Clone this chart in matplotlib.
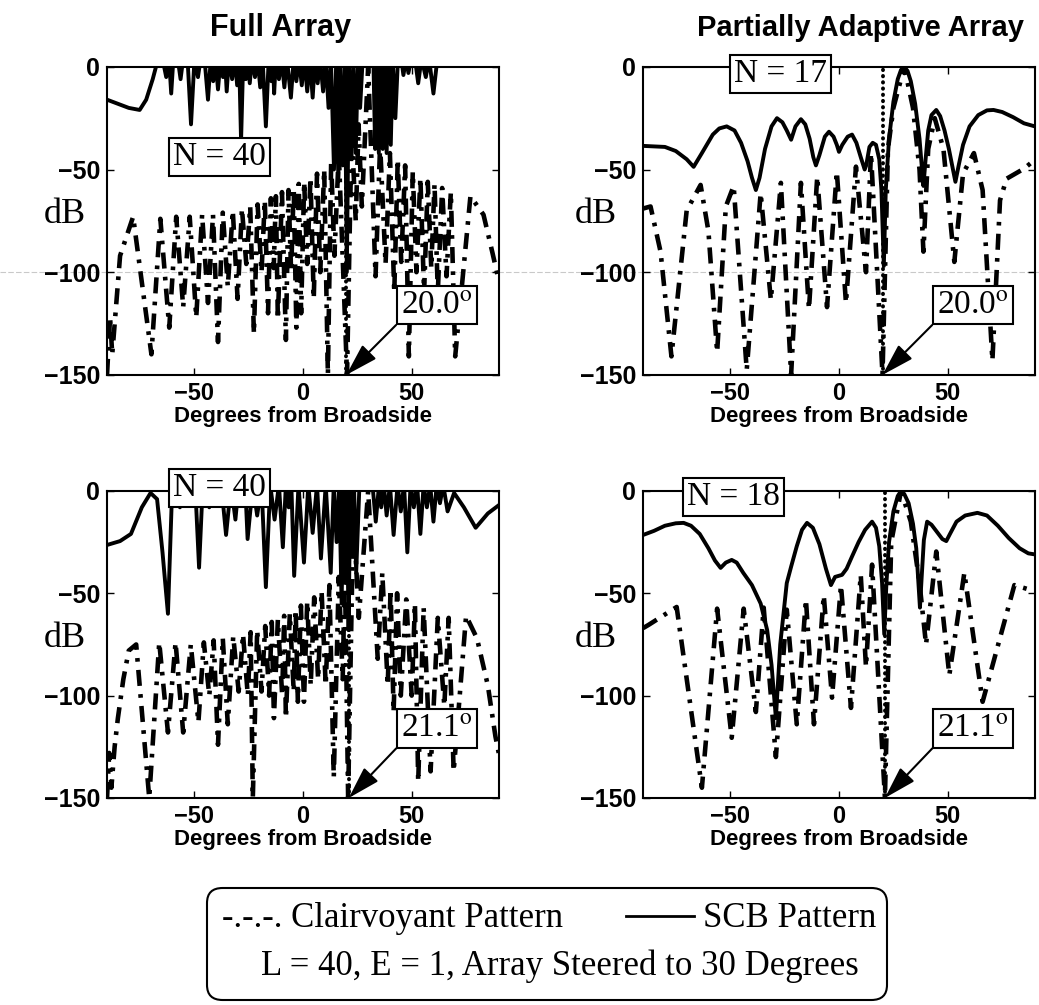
import matplotlib.pyplot as plt
from matplotlib.lines import Line2D
from matplotlib.patches import FancyBboxPatch

plt.rcParams['mathtext.fontset'] = 'stix'
SANS = 'Liberation Sans'
SERIF = 'Liberation Serif'

# ---------------- data (degrees, dB) ----------------
# Full array, jammer at 20.0 deg
tl_scb_x = [-90, -85, -80, -75, -72, -69, -66.5, -64.5, -62.8, -61.5, -60.5, -59.5, -57.5, -56.2,
            -55, -53, -51.4, -49.8, -48.2, -47, -45.2, -43.6, -42.3, -41.2, -40.2, -39, -37.8,
            -36.7, -35.8, -35, -34, -32.5, -31.2, -30.2, -29.3, -28.4, -27.4, -26.2, -25.3,
            -24.4, -23.4, -22, -20.8, -19.6, -18.5, -17, -15.7, -14.5, -13.8, -13.2, -12.4, -11,
            -9.8, -8.5, -7.3, -5.5, -4.2, -3, -1.8, -0.5, 0.7, 2, 3.2, 4.5, 5.6, 6.8, 7.9, 9.3,
            10.5, 11.8, 12.9, 14.3, 15.3, 16.3, 17.2, 18.3, 19.3, 20.2, 21.2, 22.2, 23.2, 24.3,
            25.3, 26.3, 27.5, 30, 32.4, 33.2, 34, 34.9, 35.8, 36.7, 37.6, 38.5, 39.4, 40.4, 41.3,
            42.5, 43.7, 45.2, 46.2, 47.5, 48.5, 49.8, 51.5, 53, 54.5, 56.5, 58, 60, 61.8, 63,
            70, 90]
tl_scb_y = [-16, -18, -20, -21, -16, -6, 4, 4, -5, 4, -13, 4, 4, -6,
            4, 4, -28, 4, -5, 4, 4, -16, 4, -7, 4, -11, 4,
            -5, 4, -12, 4, -6, 4, -9, 4, -36, 4, -6, 4,
            -8, 4, -5, 4, -10, 4, -29, 4, -7, 4, -13, 4, -6,
            4, -10, 4, -15, 4, -7, 4, -9, 4, -12, 4, -15, 4, -8, 4, -12,
            4, -20, 4, -50, 3, -55, 3, -48, 3, -100, 3, -45, 3, -42,
            3, -20, 4, 6, 4, -40, 3, -42, 3, -40, 3, -42, 3, -38, 3,
            -25, 4, 4, -4, 4, -3, 4, 4, -8, 4, -5, 4, -13, 4, 5,
            5, 5]
tl_cv_x = [-90, -88.6, -87.6, -84, -78, -69.6, -65.5, -61.4, -58.2, -55, -52, -49, -46.3, -43.6,
           -41.3, -39, -36.8, -34.5, -32.2, -30, -28, -26, -24.2, -22.5, -20.8, -19, -17.5, -16,
           -14.7, -13.4, -12.4, -11.5, -9.6, -7.8, -6.6, -5.4, -4.2, -3, -1.9, -0.8, 0.6, 2, 3.5,
           5, 6.5, 8, 9.8, 11.5, 13, 14.5, 16.5, 20.3, 22.4, 24.3, 25.6, 27.1, 30, 33.4, 35.5,
           38, 40, 42, 43.6, 45.2, 47, 48.7, 50.5, 52.2, 54, 55.7, 57.4, 59, 60.5, 62, 64, 66,
           68, 70, 77, 83, 87, 90]
tl_cv_y = [-150, -122, -140, -92, -73, -140, -74, -127, -73, -117, -73, -122, -72, -115,
           -72, -134, -71, -107, -70, -113, -69, -96, -68, -130, -67, -100, -65, -120,
           -64, -98, -63, -123, -61, -133, -60, -100, -59, -127, -57, -120, -56, -96, -54,
           -113, -52, -100, -50, -150, -46, -92, -42, -150, -30, -75, -28, -68, 0, -102, -38,
           -96, -42, -110, -45, -95, -48, -141, -51, -100, -54, -110, -56, -98, -57, -110, -59, -102,
           -61, -141, -63, -72, -90, -104]

# Partially adaptive array, jammer at 20.0 deg
tr_scb_x = [-90, -80, -75, -70, -66.8, -63, -58, -55, -51.6, -48, -45, -42, -40, -38.2, -36.5,
            -34, -31, -28.5, -26, -24, -22, -20, -17.5, -15.5, -13.5, -11.8, -10.6, -9, -6.5,
            -4.6, -2.5, -1, 0, 1.5, 4, 6, 8, 10, 11.8, 12.5, 14, 15.5, 17, 18.5, 19.5, 20.6,
            21.5, 23, 25, 27, 28.5, 30, 31.5, 33, 35, 37, 38, 38.8, 39.8, 41, 42.5, 44.7, 46.5,
            48.5, 50.5, 52, 53.5, 55, 57, 60, 64, 68, 71, 75, 80, 85, 90]
tr_scb_y = [-38.5, -39, -41, -45, -48.7, -42, -33, -30, -29, -31, -37, -46, -54, -60, -54,
            -40, -29, -25, -27, -31, -35.5, -29, -25.5, -28, -35, -44, -48, -43, -34,
            -31.6, -34, -38, -41.4, -38, -34, -33, -37, -44, -50, -48, -39, -37, -38, -45, -60, -97,
            -60, -35, -17, -6, -1.5, 0, -2, -7, -18, -35, -48, -58, -45, -31, -23.5, -21, -24,
            -31, -40, -48, -56, -48, -38, -29, -23.5, -21.2, -21, -22, -24.5, -27.5, -29]
tr_cv_x = [-90, -86.6, -82, -77, -70, -63.6, -60, -56, -52, -48.4, -42.4, -36, -31.3, -26.7,
           -22, -17.5, -13.8, -10, -5.5, -1, 3.2, 7.8, 12.4, 14.7, 20, 22.5, 25, 30, 34, 37,
           38.8, 41, 44, 48, 53, 57, 62, 66, 70.5, 74, 77, 85, 88, 90]
tr_cv_y = [-69, -68, -90, -141, -70, -57.5, -80, -139, -68, -58, -147.6, -61.5, -113.5, -56.5,
           -150, -56.5, -118, -53.5, -117, -51, -115, -48.6, -100, -42, -150, -40, -20, 0, -20, -50,
           -90, -40, -25, -40, -95, -52, -42, -60, -143, -65, -54.5, -49.6, -47, -48]

# Full array, jammer at 21.1 deg
bl_scb_x = [-90, -84, -79, -74, -70, -67, -64.5, -62, -60, -57.5, -56.5, -55, -52, -49.5, -47.7,
            -46, -44.5, -43, -41.5, -39.5, -37.5, -35.3, -33, -31, -29.5, -28, -26.5, -25.4, -23,
            -21, -19, -17, -15, -13, -11, -9.2, -7.8, -6.5, -5.3, -4, -2, 0.5, 2.5, 4.5, 6.5, 8.3,
            10.5, 12.8, 14.2, 15.5, 16.7, 17.8, 18.7, 19.5, 20.2, 21, 21.8, 22.5, 23.5, 24.5, 26,
            30, 32, 33.5, 35, 36, 37.2, 38.5, 40, 41.7, 43.5, 45, 46.5, 48, 49.5, 51, 52.5, 54,
            55.5, 57, 58.5, 60, 61.5, 63, 64.5, 66.5, 69.5, 74, 79.4, 85, 90]
bl_scb_y = [-26.4, -24.5, -21, -8, -1, -4, -30, -60, 3, 3, -8, 3, 3, 3, -37.5,
            3, 3, -8, 3, -5, 3, -21.5, 3, -14, 3, -6, 3, -23.5, 3,
            -12, 3, -47, 3, -14, 3, -27.5, 3, -8, 3, -41.5, 3, -35, 3, -20.5, 3, -33,
            3, -40, 3, -25, 3, -55, 3, -45, 3, -68, 3, -30, 3, -40, 3,
            5, 3, -15, 3, -8, 3, -12, 3, -21.5, 3, -10, 3, -30, 3, -8, 3, -21,
            3, -8, 3, -15, 3, -6, 3, -10, -1, -8, -18, -11, -7]
bl_cv_x = [-90, -89, -88, -86.5, -85, -82.5, -80, -76.6, -70.6, -66, -62, -58.5, -55, -51.5,
           -48, -45.5, -43, -41, -39, -36.8, -34.5, -32, -29.5, -27.5, -25.3, -24, -23, -21,
           -19, -17.3, -15.5, -14.3, -13.3, -11.5, -9.5, -8.6, -7.8, -6, -4.2, -3.3, -2.3,
           -0.9, 0.5, 2, 3.6, 5.2, 7, 8.6, 10.5, 12.2, 14.2, 16.5, 18.3, 19.3, 20.8, 23.2,
           25.7, 30, 34.4, 36.5, 39, 40.3, 41.7, 43.3, 45, 47.5, 50, 51.5, 53, 55.5, 58.7, 62,
           65, 67, 69.3, 75, 80, 85, 88.5, 90]
bl_cv_y = [-150, -128, -145, -125, -111, -92, -78, -75, -150, -74, -118, -74, -118, -75,
           -113, -74, -100, -73, -124, -72, -114, -71, -98, -70, -100, -69, -150, -68,
           -98, -66, -100, -64, -111, -63, -100, -61, -111, -60, -98, -58, -103,
           -56, -103, -54, -95, -52, -92, -49, -95, -46, -140, -42, -92, -38, -150, -10,
           -62, 0, -82, -40, -95, -48, -108, -50, -100, -53, -100, -55, -142, -57, -137, -62,
           -105, -62, -137, -61, -72, -95, -120, -128]

# Partially adaptive array, jammer at 21.1 deg
br_scb_x = [-90, -85, -80, -75, -71.4, -68, -64, -60, -57, -54.4, -52, -49.3, -47, -44, -40,
            -36, -33, -31, -29, -27, -24, -22, -19.4, -17, -14.7, -12, -9, -6, -3.7, -1.8, 1.4,
            3.5, 6, 9, 12, 15.2, 17, 18.5, 19.8, 20.8, 21.8, 23, 25, 27, 28.5, 30, 32, 34, 35.5,
            36.5, 37.2, 38, 39, 40.5, 42.5, 45, 47.5, 49.3, 51, 54, 58, 63.6, 68, 73, 78, 83,
            87, 90]
br_scb_y = [-21.5, -19.5, -17, -15.8, -15.6, -17, -21, -28, -34, -37.6, -35, -33.7, -35, -40, -46,
            -55, -68, -85, -111, -75, -45, -37, -27, -19, -15.6, -18, -26, -38, -46, -42, -41,
            -38, -32, -25, -19, -15, -18, -27, -45, -70, -45, -25, -10, -2.5, 0, -1.5, -6, -16, -28,
            -45, -57, -42, -24, -15, -16.5, -20, -23.5, -24.5, -21, -15, -12, -10.7, -12, -17, -23, -28,
            -30.5, -31]
br_cv_x = [-90, -87.6, -74.6, -63, -56, -49.3, -43.8, -38.2, -34.6, -29, -24, -19.4, -15.2,
           -11.5, -7, -3.2, 0.9, 5.5, 10, 12.4, 15.2, 21.1, 24, 28.5, 33, 37, 40, 44.7, 50.7,
           57.6, 66, 80.6, 90]
br_cv_y = [-67, -65.5, -56.7, -145, -57.5, -120.6, -57.5, -108, -57, -130, -58, -114, -53,
           -114, -51, -101, -46, -106, -41, -86, -36, -150, -25, 0, -15, -45, -75, -29.6, -90,
           -40, -103, -46, -49]

panels = [
    # position, scb, clairvoyant, jammer, N label and place, dB label x
    ([0.103, 0.627, 0.377, 0.3065], tl_scb_x, tl_scb_y, tl_cv_x, tl_cv_y, 20.0, 'N = 40', (-38.3, -44), -0.107),
    ([0.619, 0.627, 0.377, 0.3065], tr_scb_x, tr_scb_y, tr_cv_x, tr_cv_y, 20.0, 'N = 17', (-26.7, -3.5), -0.122),
    ([0.103, 0.206, 0.377, 0.3055], bl_scb_x, bl_scb_y, bl_cv_x, bl_cv_y, 21.1, 'N = 40', (-38.5, 1.5), -0.107),
    ([0.619, 0.206, 0.377, 0.3055], br_scb_x, br_scb_y, br_cv_x, br_cv_y, 21.1, 'N = 18', (-48.4, -3), -0.122),
]

fig = plt.figure(figsize=(10.39, 10.05), dpi=100)

# faint scanner streak across the top row
fig.add_artist(Line2D([0, 1], [1 - 272 / 1005] * 2, transform=fig.transFigure,
                      color='#c9c9c9', lw=0.8, ls=(0, (5, 2)), zorder=-1))

for pos, sx, sy, cx, cy, jam, nlab, nxy, dbx in panels:
    ax = fig.add_axes(pos)
    ax.patch.set_visible(False)
    ax.plot(cx, cy, color='black', lw=3.3, ls=(0, (3.5, 1.8, 0.8, 1.8)), solid_capstyle='butt')
    ax.plot(sx, sy, color='black', lw=2.8, solid_joinstyle='round')
    ax.plot([jam, jam], [-150, 0], color='black', lw=2.8, ls=(0, (0.1, 1.5)),
            dash_capstyle='round')
    ax.set_xlim(-90, 90)
    ax.set_ylim(-150, 0)
    ax.set_xticks([-50, 0, 50], labels=['\u221250', '0', '50'],
                  fontsize=17, fontweight='bold', family=SANS)
    ax.set_yticks([0, -50, -100, -150], labels=['0', '\u221250', '\u2212100', '\u2212150'],
                  fontsize=18, fontweight='bold', family=SANS)
    ax.tick_params(direction='in', top=True, right=True, length=5, width=1, pad=5)
    for s in ax.spines.values():
        s.set_linewidth(1.5)
    ax.set_xlabel('Degrees from Broadside', fontsize=16, fontweight='bold', family=SANS, labelpad=1)
    ax.text(dbx, 0.52, 'dB', transform=ax.transAxes, fontsize=26, family=SERIF,
            ha='center', va='center')
    ax.text(nxy[0], nxy[1], nlab, fontsize=24, family=SERIF, ha='center', va='center', zorder=6,
            bbox=dict(boxstyle='square,pad=0.12', fc='white', ec='black', lw=1.5))
    ax.annotate('%.1f$^{\\mathrm{o}}$' % jam, xy=(jam, -150), xytext=(61.5, -116),
                fontsize=24, family=SERIF, ha='center', va='center', zorder=6,
                bbox=dict(boxstyle='square,pad=0.12', fc='white', ec='black', lw=1.5),
                arrowprops=dict(arrowstyle='-|>,head_length=1.0,head_width=0.3',
                                mutation_scale=20, lw=1.5, color='black', relpos=(0, 0),
                                shrinkA=0, shrinkB=0))

fig.text(0.27, 0.972, 'Full Array', fontsize=22, fontweight='bold', family=SANS,
         ha='center', va='center')
fig.text(0.828, 0.972, 'Partially Adaptive Array', fontsize=21, fontweight='bold', family=SANS,
         ha='center', va='center')

# legend box at the bottom
fig.add_artist(FancyBboxPatch((207 / 1039, 5 / 1005), 680 / 1039, 112 / 1005,
                              boxstyle='round,pad=0,rounding_size=0.015',
                              transform=fig.transFigure, fc='white', ec='black', lw=1.5))
y1 = 1 - 918 / 1005
y2 = 1 - 966 / 1005
fig.text(222 / 1039, y1, '-.-.-. Clairvoyant Pattern', fontsize=25, family=SERIF,
         ha='left', va='center')
fig.add_artist(Line2D([626 / 1039, 694 / 1039], [y1 + 0.002] * 2, transform=fig.transFigure,
                      color='black', lw=2))
fig.text(703 / 1039, y1, 'SCB Pattern', fontsize=25, family=SERIF, ha='left', va='center')
fig.text(560 / 1039, y2, 'L = 40, E = 1, Array Steered to 30 Degrees', fontsize=25,
         family=SERIF, ha='center', va='center')

fig.savefig('out.png', dpi=100)
